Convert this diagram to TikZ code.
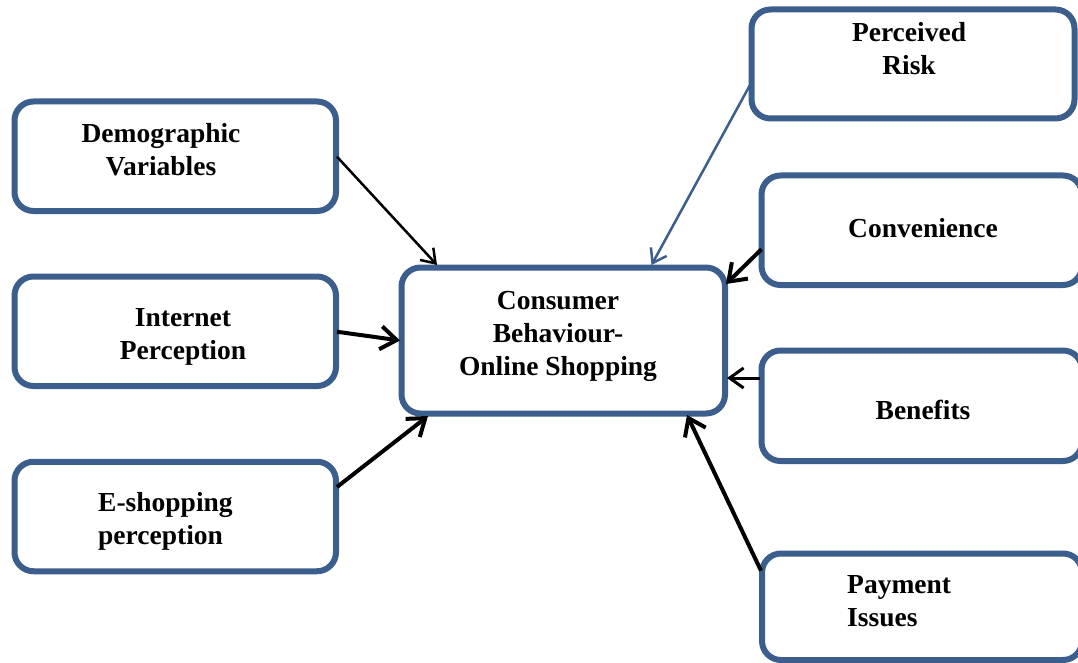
\documentclass[tikz,border=0pt]{standalone}
\usepackage{fontspec}
\setmainfont{Liberation Serif}
\usetikzlibrary{arrows.meta,calc}
\definecolor{boxblue}{HTML}{3B5E8C}
\begin{document}
\begin{tikzpicture}[x=1pt,y=-1pt,
  box/.style={draw=boxblue,line width=6pt,rounded corners=19pt,inner sep=0pt,fill=white},
  label/.style={font=\bfseries\fontsize{27.5}{33}\selectfont,inner sep=0pt},
  thinarrow/.style={line width=2.5pt,-{Straight Barb[length=13pt,width=18pt]}},
  thickarrow/.style={line width=4pt,-{Straight Barb[length=16pt,width=23pt]}}]
\useasboundingbox (0,0) rectangle (1078,663);
\clip (0,0) rectangle (1078,663);
% boxes
\node[box,minimum width=321.5pt,minimum height=109.5pt] (demo)  at (175.25,156.25) {};
\node[box,minimum width=321.5pt,minimum height=109.5pt] (inet)  at (175.25,331.25) {};
\node[box,minimum width=321.5pt,minimum height=109.5pt] (eshop) at (175.25,516.5) {};
\node[box,minimum width=323.5pt,minimum height=146pt]   (cb)    at (563.25,340.5) {};
\node[box,minimum width=323pt,minimum height=109pt]     (risk)  at (913,64) {};
\node[box,minimum width=320.5pt,minimum height=109.5pt] (conv)  at (921.75,230.25) {};
\node[box,minimum width=320.5pt,minimum height=110.5pt] (bene)  at (921.75,405.75) {};
\node[box,minimum width=320pt,minimum height=106.5pt]   (pay)   at (922,606.75) {};
% labels (base anchor = baseline of the last line)
\node[label,align=center,anchor=base] (demoT)  at (161,175.7) {Demographic\\Variables};
\node[label,align=center,anchor=base] (inetT)  at (183,359.7) {Internet\\Perception};
\node[label,align=left,anchor=base west] (eshopT) at (98,544.5) {E-shopping\\perception};
\node[label,align=center,anchor=base] (cbT)    at (558,375.3) {Consumer\\Behaviour-\\Online Shopping};
\node[label,align=center,anchor=base] (riskT)  at (909,74.7) {Perceived\\Risk};
\node[label,anchor=base] (convT)  at (923,237) {Convenience};
\node[label,anchor=base] (beneT)  at (923,419) {Benefits};
\node[label,align=left,anchor=base west] (payT) at (847,626.3) {Payment\\Issues};
% connectors
\draw[thinarrow] ($(demo.east)+(-2,0.5)$) -- ($(cb.north west)+(38.5,0.5)$);
\draw[thickarrow] ($(inet.east)+(-2,0.5)$) -- ($(cb.west)+(1.5,0)$);
\draw[thickarrow] ($(eshop.east)+(-2,-29.5)$) -- ($(cb.south west)+(29.5,-0.5)$);
\draw[thinarrow,draw=boxblue] ($(risk.west)+(1.5,21)$) -- ($(cb.north west)+(253,0.5)$);
\draw[thickarrow] ($(conv.west)+(3,19)$) -- ($(cb.north east)+(-2,19.5)$);
\draw[line width=3pt,-{Straight Barb[length=14pt,width=20pt]}] ($(bene.west)+(1.5,-27.75)$) -- ($(cb.east)+(-1,37.5)$);
\draw[thickarrow] ($(pay.west)+(2,-36)$) -- ($(cb.south east)+(-41,-1.5)$);
\end{tikzpicture}
\end{document}
